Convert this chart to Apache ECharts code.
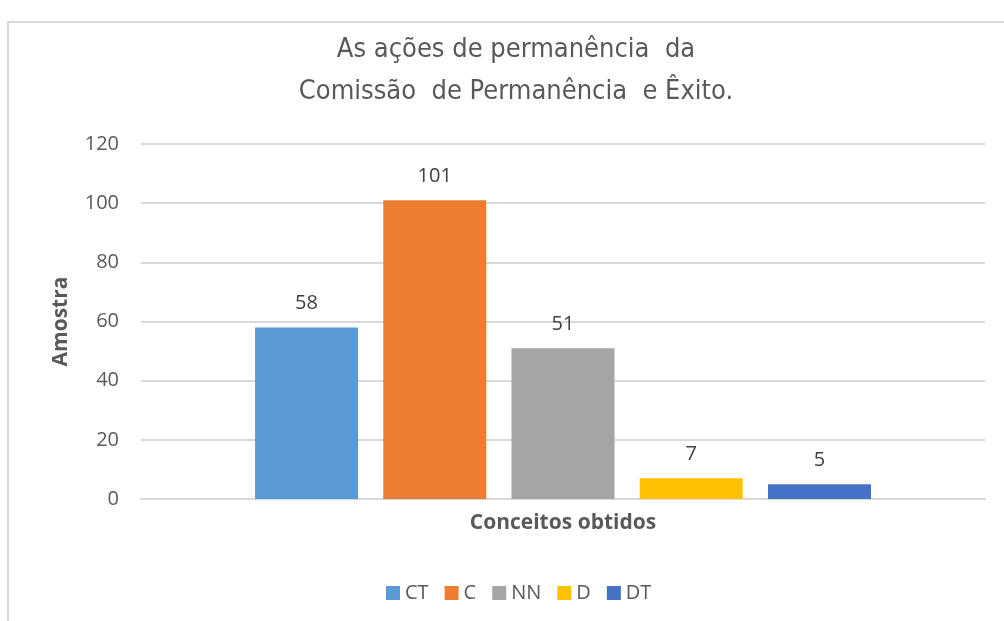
<!DOCTYPE html>
<html>
<head>
<meta charset="utf-8">
<script src="https://cdn.jsdelivr.net/npm/echarts@6/dist/echarts.min.js"></script>
<style>
html,body{margin:0;padding:0;background:#fff;}
#chart{width:1004px;height:621px;}
</style>
</head>
<body>
<div id="chart"></div>
<script>
const categories = ['Conceitos obtidos'];
const seriesNames = ['CT', 'C', 'NN', 'D', 'DT'];
const seriesValues = [58, 101, 51, 7, 5];
const seriesColors = ['#5B9BD5', '#ED7D31', '#A5A5A5', '#FFC000', '#4472C4'];
const yTicks = { min: 0, max: 120, interval: 20 };
const titleText = 'As ações de permanência  da\nComissão  de Permanência  e Êxito.';

const chart = echarts.init(document.getElementById('chart'));
const font = '"Open Sans", "Noto Sans", sans-serif';

chart.setOption({
  backgroundColor: '#fff',
  animation: false,
  title: {
    text: titleText,
    left: 511,
    textAlign: 'center',
    top: 24,
    textStyle: {
      fontFamily: '"DejaVu Sans Condensed", "Liberation Sans Narrow", sans-serif',
      fontSize: 27,
      fontWeight: 'normal',
      color: '#595959',
      lineHeight: 42
    }
  },
  graphic: [{
    type: 'polyline',
    shape: { points: [[8, 621], [8, 22], [1004, 22]] },
    style: { stroke: '#d9d9d9', lineWidth: 2, fill: null },
    silent: true
  }],
  legend: {
    data: seriesNames,
    bottom: 13,
    left: 381,
    itemWidth: 14,
    itemHeight: 14,
    itemGap: 16,
    icon: 'rect',
    textStyle: { fontFamily: font, fontSize: 20, color: '#595959' }
  },
  grid: { left: 141, right: 19, top: 144, bottom: 122 },
  xAxis: {
    type: 'category',
    data: categories,
    axisLabel: { show: false },
    axisTick: { show: false },
    axisLine: { lineStyle: { color: '#d9d9d9', width: 2 } },
    name: categories[0],
    nameLocation: 'middle',
    nameGap: 14,
    nameTextStyle: { fontFamily: font, fontSize: 21, fontWeight: 'bold', color: '#595959' }
  },
  yAxis: {
    type: 'value',
    min: yTicks.min,
    max: yTicks.max,
    interval: yTicks.interval,
    axisLine: { show: false },
    axisTick: { show: false },
    axisLabel: { fontFamily: font, fontSize: 20, color: '#595959', margin: 22 },
    splitLine: { lineStyle: { color: '#d9d9d9', width: 2 } },
    name: 'Amostra',
    nameLocation: 'middle',
    nameGap: 69,
    nameTextStyle: { fontFamily: font, fontSize: 21, fontWeight: 'bold', color: '#595959' }
  },
  series: seriesNames.map((n, i) => ({
    name: n,
    type: 'bar',
    barWidth: 103,
    barGap: '24.5%',
    itemStyle: { color: seriesColors[i] },
    label: {
      show: true,
      position: 'top',
      distance: 14,
      fontFamily: font,
      fontSize: 20,
      color: '#404040'
    },
    data: [seriesValues[i]]
  }))
});
</script>
</body>
</html>
